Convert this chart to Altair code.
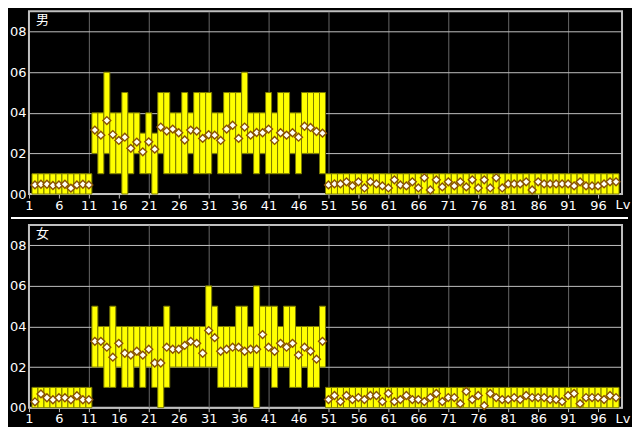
import altair as alt
import pandas as pd

# ---- data ----
levels = list(range(2, 100))
x_tick_values = [1, 6, 11, 16, 21, 26, 31, 36, 41, 46, 51, 56, 61, 66, 71, 76, 81, 86, 91, 96]
y_tick_values = [0, 2, 4, 6, 8]
panel_titles = ["男", "女"]
axis_end_label = "Lv"

male_low = [
    0, 0, 0, 0, 0, 0, 0, 0, 0, 0,
    2, 1, 2, 1, 1, 0, 1, 2, 1, 1, 0, 2, 1, 1, 1, 1, 2, 1, 1, 1,
    2, 1, 1, 1, 1, 2, 2, 1, 2, 1, 1, 1, 1, 2, 1, 2, 2, 2, 1,
    0, 0, 0, 0, 0, 0, 0, 0, 0, 0, 0, 0, 0, 0, 0, 0, 0, 0, 0, 0,
    0, 0, 0, 0, 0, 0, 0, 0, 0, 0, 0, 0, 0, 0, 0, 0, 0, 0, 0, 0,
    0, 0, 0, 0, 0, 0, 0, 0, 0,
]
male_high = [
    1, 1, 1, 1, 1, 1, 1, 1, 1, 1,
    4, 4, 6, 4, 4, 5, 4, 4, 3, 4, 3, 5, 5, 4, 4, 5, 4, 5, 5, 5,
    4, 4, 5, 5, 5, 6, 4, 4, 4, 5, 4, 5, 5, 4, 4, 5, 5, 5, 5,
    1, 1, 1, 1, 1, 1, 1, 1, 1, 1, 1, 1, 1, 1, 1, 1, 1, 1, 1, 1,
    1, 1, 1, 1, 1, 1, 1, 1, 1, 1, 1, 1, 1, 1, 1, 1, 1, 1, 1, 1,
    1, 1, 1, 1, 1, 1, 1, 1, 1,
]
male_avg = [
    0.45, 0.48, 0.48, 0.42, 0.45, 0.48, 0.29, 0.45, 0.48, 0.45,
    3.15, 2.9, 3.62, 2.93, 2.64, 2.8, 2.25, 2.56, 2.08, 2.57,
    2.21, 3.3, 3.1, 3.2, 3.02, 2.66, 3.15, 3.1, 2.74, 2.92,
    2.9, 2.64, 3.2, 3.39, 2.74, 3.3, 2.9, 3.03, 3.02, 3.2,
    2.64, 3.02, 2.9, 3.02, 2.8, 3.34, 3.28, 3.08, 3.0,
    0.45, 0.5, 0.5, 0.6, 0.4, 0.6, 0.3, 0.6, 0.5, 0.4,
    0.3, 0.7, 0.45, 0.4, 0.6, 0.3, 0.8, 0.2, 0.7, 0.35,
    0.6, 0.4, 0.6, 0.35, 0.7, 0.3, 0.7, 0.3, 0.8, 0.3,
    0.5, 0.5, 0.5, 0.6, 0.2, 0.6, 0.5, 0.5, 0.5, 0.5,
    0.5, 0.4, 0.6, 0.4, 0.4, 0.4, 0.5, 0.6, 0.6,
]
female_low = [
    0, 0, 0, 0, 0, 0, 0, 0, 0, 0,
    2, 2, 1, 1, 2, 1, 1, 2, 1, 2, 1, 0, 1, 2, 2, 2, 2, 2, 2, 2,
    2, 1, 1, 1, 1, 1, 2, 0, 2, 2, 1, 2, 2, 1, 1, 2, 1, 1, 2,
    0, 0, 0, 0, 0, 0, 0, 0, 0, 0, 0, 0, 0, 0, 0, 0, 0, 0, 0, 0,
    0, 0, 0, 0, 0, 0, 0, 0, 0, 0, 0, 0, 0, 0, 0, 0, 0, 0, 0, 0,
    0, 0, 0, 0, 0, 0, 0, 0, 0,
]
female_high = [
    1, 1, 1, 1, 1, 1, 1, 1, 1, 1,
    5, 4, 4, 5, 4, 4, 4, 4, 4, 4, 4, 4, 5, 4, 4, 4, 4, 4, 4, 6,
    5, 4, 4, 4, 5, 5, 4, 6, 5, 5, 5, 4, 5, 5, 4, 4, 4, 4, 5,
    1, 1, 1, 1, 1, 1, 1, 1, 1, 1, 1, 1, 1, 1, 1, 1, 1, 1, 1, 1,
    1, 1, 1, 1, 1, 1, 1, 1, 1, 1, 1, 1, 1, 1, 1, 1, 1, 1, 1, 1,
    1, 1, 1, 1, 1, 1, 1, 1, 1,
]
female_avg = [
    0.29, 0.68, 0.49, 0.39, 0.49, 0.49, 0.39, 0.59, 0.39, 0.39,
    3.27, 3.27, 2.98, 2.49, 3.17, 2.68, 2.59, 2.78, 2.59, 2.88,
    2.2, 2.2, 2.98, 2.88, 2.88, 3.07, 3.27, 3.17, 2.68, 3.8,
    3.45, 2.78, 2.88, 2.98, 2.98, 2.78, 2.88, 2.88, 3.6, 2.98,
    2.78, 3.17, 2.98, 3.17, 2.59, 2.98, 2.78, 2.39, 3.27,
    0.4, 0.6, 0.3, 0.6, 0.4, 0.5, 0.4, 0.6, 0.6, 0.3,
    0.7, 0.3, 0.4, 0.6, 0.4, 0.4, 0.3, 0.5, 0.7, 0.3,
    0.5, 0.5, 0.2, 0.8, 0.4, 0.6, 0.1, 0.7, 0.5, 0.4,
    0.4, 0.5, 0.4, 0.6, 0.5, 0.5, 0.5, 0.4, 0.4, 0.3,
    0.6, 0.7, 0.2, 0.5, 0.5, 0.5, 0.4, 0.6, 0.5,
]

W, H = 594, 183
FONT = "DejaVu Sans"

XSCALE = alt.Scale(domain=[1, 100], nice=False, zero=False)
YSCALE = alt.Scale(domain=[0, 9], nice=False, zero=False)
XAXIS = alt.Axis(
    values=x_tick_values, title=None, domain=False,
    labelColor="white", labelFont=FONT, labelFontSize=13, labelPadding=1,
    labelFlush=False, labelOverlap=False,
    tickColor="#c0c0c0", tickSize=4, tickWidth=1,
    grid=True, gridColor="#666666", gridWidth=1,
    gridOpacity={"condition": {"test": "datum.value > 1 && datum.value % 10 == 1", "value": 1}, "value": 0},
)
YAXIS = alt.Axis(
    values=y_tick_values, format="02d", title=None, domain=False, ticks=False,
    labelColor="white", labelFont=FONT, labelFontSize=13, labelPadding=3,
    labelOverlap=False, grid=True, gridColor="#c0c0c0", gridWidth=1,
)


def panel(title, low, high, avg, divider):
    df = pd.DataFrame({"lv": levels, "low": low, "high": high, "avg": avg})
    base = alt.Chart(df).transform_calculate(x0="datum.lv - 0.5", x1="datum.lv + 0.5")
    bars = base.mark_rect(fill="#ffff00", stroke="#7a7a00", strokeWidth=1).encode(
        x=alt.X("x0:Q", scale=XSCALE, axis=XAXIS),
        x2="x1:Q",
        y=alt.Y("low:Q", scale=YSCALE, axis=YAXIS),
        y2="high:Q",
    )
    pts = base.mark_point(
        shape="diamond", filled=True, fill="#fffff4", stroke="#8a5200",
        strokeWidth=1.4, size=62, opacity=1,
    ).encode(
        x=alt.X("lv:Q", scale=XSCALE, axis=XAXIS),
        y=alt.Y("avg:Q", scale=YSCALE, axis=YAXIS),
    )
    ttl = alt.Chart(pd.DataFrame({"t": [title]})).mark_text(
        align="left", baseline="top", color="white",
        font="Noto Sans CJK JP", fontSize=13,
    ).encode(x=alt.value(7), y=alt.value(3), text="t:N")
    lv = alt.Chart(pd.DataFrame({"t": [axis_end_label]})).mark_text(
        align="center", baseline="top", color="white", font=FONT, fontSize=13,
    ).encode(x=alt.value(W + 1), y=alt.value(H + 5), text="t:N")
    layers = [bars, pts, ttl, lv]
    if divider:
        rule = alt.Chart(pd.DataFrame({"d": [0]})).mark_rule(
            color="white", strokeWidth=2
        ).encode(x=alt.value(-18), x2=alt.value(W + 6), y=alt.value(-7))
        layers.append(rule)
    return alt.layer(*layers).properties(width=W, height=H)


top = panel(panel_titles[0], male_low, male_high, male_avg, False)
bottom = panel(panel_titles[1], female_low, female_high, female_avg, True)

chart = alt.vconcat(top, bottom, spacing=31, bounds="flush").configure(
    background="black",
    padding={"left": 0, "top": 2, "right": 0, "bottom": 0},
).configure_view(fill="black", stroke="#c0c0c0", strokeWidth=2)

chart.save("out.html", embed_options={"renderer": "svg", "actions": False})
